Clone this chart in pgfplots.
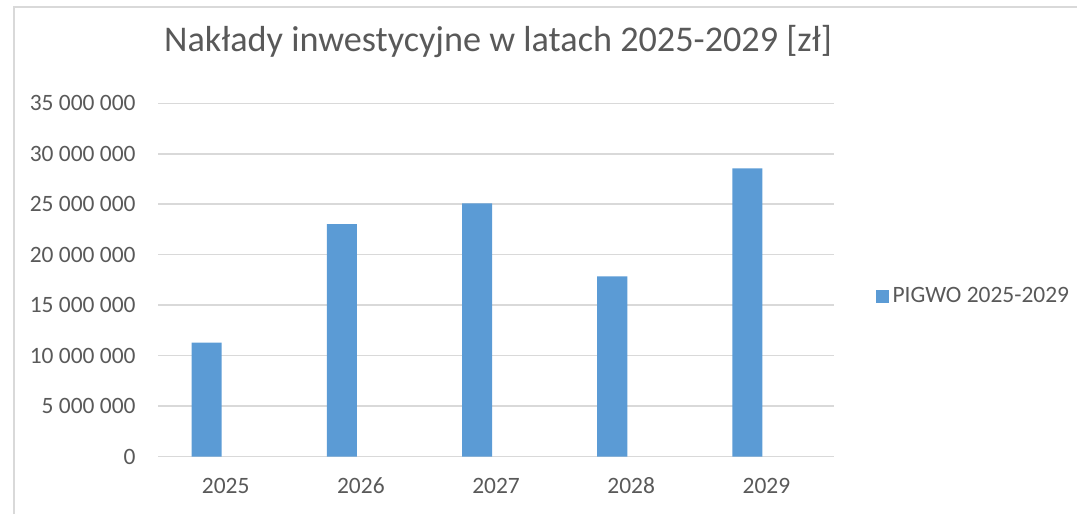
\documentclass[border=0pt]{standalone}
\usepackage{pgfplots}
\pgfplotsset{compat=1.18}
\usepackage{fontspec}
\setmainfont{Carlito}
\definecolor{bartc}{HTML}{5B9BD5}
\definecolor{txt}{HTML}{595959}
\definecolor{grd}{HTML}{D9D9D9}
\begin{document}
\begin{tikzpicture}
\useasboundingbox (0,0) rectangle (422.4pt,201.6pt);
\draw[grd, line width=0.6pt] (5.5pt,0) -- (5.5pt,198.8pt) -- (422.4pt,198.8pt);
\node[txt, font=\fontsize{14.2}{17}\selectfont] at (195.3pt,185.3pt) {Nakłady inwestycyjne w latach 2025-2029 [zł]};
\begin{axis}[
  at={(62pt,22.5pt)}, anchor=south west,
  scale only axis,
  width=265.1pt, height=138.6pt,
  xmin=-0.5, xmax=4.5,
  ymin=0, ymax=35000000,
  xtick={0,1,2,3,4},
  xticklabels={2025,2026,2027,2028,2029},
  ytick={0,5000000,10000000,15000000,20000000,25000000,30000000,35000000},
  yticklabels={0,5 000 000,10 000 000,15 000 000,20 000 000,25 000 000,30 000 000,35 000 000},
  scaled y ticks=false,
  axis line style={draw=none},
  major tick length=0pt,
  ymajorgrids,
  grid style={grd, line width=0.6pt},
  ticklabel style={txt, font=\fontsize{9.2}{11}\selectfont},
  yticklabel style={xshift=-5.3pt},
  xticklabel style={yshift=-4.5pt, text height=6.6pt, text depth=0pt},
  legend style={at={(1.061,0.452)}, anchor=west, draw=none, fill=none,
    inner sep=0pt, text=txt, font=\fontsize{9.2}{11}\selectfont,
    nodes={inner sep=1.5pt}},
  legend cell align=left,
  legend image code/.code={\fill[bartc] (0pt,-2.55pt) rectangle (5.1pt,2.55pt);},
  clip=false,
]
\addplot[ybar, bar width=11.8pt, bar shift=-7.45pt, fill=bartc, draw=none]
  coordinates {(0,11290000) (1,23040000) (2,25090000) (3,17860000) (4,28550000)};
\addlegendentry{PIGWO 2025-2029}
\end{axis}
\end{tikzpicture}
\end{document}
